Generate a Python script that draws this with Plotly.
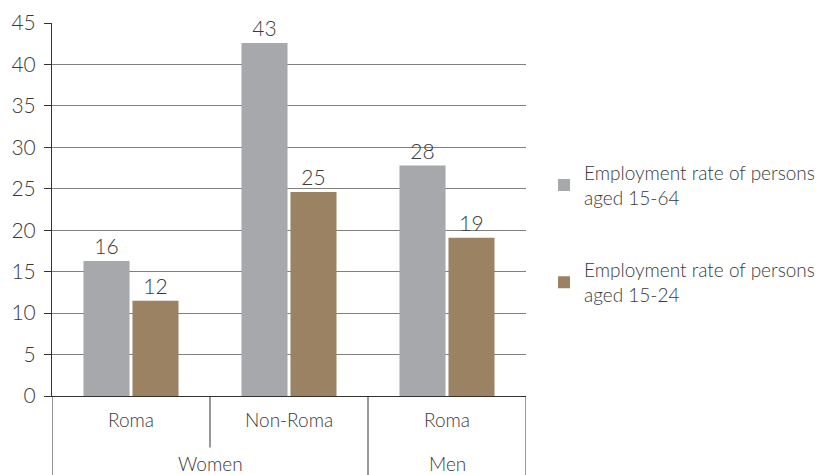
import plotly.graph_objects as go

groups = ["Women", "Women", "Men"]
subgroups = ["Roma", "Non-Roma", "Roma"]
rate_15_64 = [16.3, 42.6, 27.8]
rate_15_24 = [11.5, 24.6, 19.1]
series_names = ["Employment rate of persons<br>aged 15-64", "Employment rate of persons<br>aged 15-24"]
colors = ["#A7A8AB", "#9A8262"]
yticks = [0, 5, 10, 15, 20, 25, 30, 35, 40, 45]

FAM = "Lato, 'Open Sans', sans-serif"
TXT = "#3a3a3a"
LINE = "#333333"

cats = [f"{g}|{s}" for g, s in zip(groups, subgroups)]

fig = go.Figure()
for i, (name, vals) in enumerate(zip(series_names, [rate_15_64, rate_15_24])):
    fig.add_trace(go.Bar(
        x=cats, y=vals, name=name,
        marker=dict(color=colors[i], line=dict(width=0)),
        text=[f"{v:.0f}" for v in vals], textposition="outside",
        textfont=dict(family=FAM, size=21, color=TXT, weight=300),
        cliponaxis=False, legendgroup=f"g{i}",
    ))

for i, s in enumerate(subgroups):
    fig.add_annotation(x=i, y=-0.064, xref="x", yref="paper", text=s, showarrow=False,
                       font=dict(family=FAM, size=19, color=TXT, weight=300), yanchor="middle")
outer = []
for i, g in enumerate(groups):
    if outer and outer[-1][0] == g:
        outer[-1][2] = i
    else:
        outer.append([g, i, i])
for g, a, b in outer:
    fig.add_annotation(x=(a + b) / 2, y=-0.18, xref="x", yref="paper", text=g, showarrow=False,
                       font=dict(family=FAM, size=19, color=TXT, weight=300), yanchor="middle")

n = len(cats)
for k in range(n + 1):
    pos = k - 0.5
    full = k == 0 or k == n or groups[k - 1] != groups[k]
    fig.add_shape(type="line", xref="x", yref="paper", x0=pos, x1=pos, y0=0,
                  y1=-0.25 if full else -0.138, line=dict(color=LINE, width=1))

fig.update_layout(
    width=830, height=475,
    margin=dict(l=44, r=312, t=15, b=87),
    paper_bgcolor="white", plot_bgcolor="white",
    font=dict(family=FAM, size=17, color=TXT, weight=300),
    barmode="group", bargap=0.38, bargroupgap=0.06,
    showlegend=True,
    legend=dict(x=1.038, xanchor="left", y=0.435, yanchor="middle",
                traceorder="grouped", tracegroupgap=45,
                font=dict(family=FAM, size=19, color=TXT, weight=300)),
    yaxis=dict(range=[0, 45], tickvals=yticks, showgrid=True, gridcolor="#808080", gridwidth=1,
               showline=True, linecolor=LINE, linewidth=1, ticks="outside", ticklen=7,
               tickcolor=LINE, zeroline=True, zerolinecolor=LINE, zerolinewidth=1,
               tickfont=dict(size=21), automargin=False, ticklabelstandoff=4,
               ticklabeloverflow="allow"),
    xaxis=dict(showline=True, linecolor=LINE, linewidth=1, showticklabels=False,
               ticks="", automargin=False, range=[-0.5, n - 0.5]),
)
fig.write_html("out.html")
